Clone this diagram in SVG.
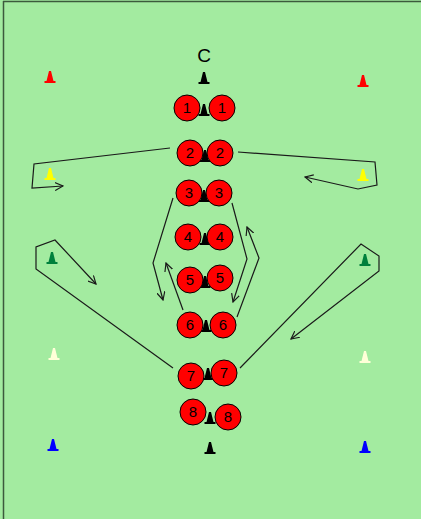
<svg xmlns="http://www.w3.org/2000/svg" xmlns:xlink="http://www.w3.org/1999/xlink" width="421" height="519" viewBox="0 0 421 519">
<style>
.p{fill:#ff0000;stroke:#000;stroke-width:1}
.n{font-family:"Liberation Sans",Arial,sans-serif;font-size:15px;fill:#000;text-anchor:middle}
.t{font-family:"Liberation Sans",Arial,sans-serif;font-size:19px;fill:#000;text-anchor:middle}
.c{fill:none;stroke:#1a1a1a;stroke-width:1.2;stroke-linejoin:miter}
</style>
<defs>
<path id="cone" d="M-1,-7 L1,-7 L3.5,3 L5.5,3 L5.5,5 L-5.5,5 L-5.5,3 L-3.5,3 Z"/>
<marker id="ah" viewBox="0 0 10 10" refX="9" refY="5" markerWidth="9" markerHeight="9" markerUnits="userSpaceOnUse" orient="auto">
<path d="M0,0.5 L9,5 L0,9.5" fill="none" stroke="#1a1a1a" stroke-width="1.3"/>
</marker>
</defs>
<rect x="0" y="0" width="421" height="519" fill="#a3eba0"/>
<line x1="3" y1="1.5" x2="421" y2="1.5" stroke="#3c5a3c" stroke-width="1.5"/>
<line x1="3.5" y1="1" x2="3.5" y2="519" stroke="#3c5a3c" stroke-width="1.5"/>

<g id="connectors">
<polyline class="c" points="170,148 34,164 32,188 63,186" marker-end="url(#ah)"/>
<polyline class="c" points="238,152 375,162 377,185 358,189 305,177" marker-end="url(#ah)"/>
<polyline class="c" points="173,198 153,263 163,300" marker-end="url(#ah)"/>
<polyline class="c" points="183,310 166,263" marker-end="url(#ah)"/>
<polyline class="c" points="232,203 247,259 233,302" marker-end="url(#ah)"/>
<polyline class="c" points="237,317 259,258 247,227" marker-end="url(#ah)"/>
<polyline class="c" points="173,368 36,269 36,247 55,240 96,284" marker-end="url(#ah)"/>
<polyline class="c" points="240,368 361,244 379,256 379,271 291,339" marker-end="url(#ah)"/>
</g>

<g id="coach">
<text class="t" x="204" y="62">C</text>
<use href="#cone" x="204" y="79" fill="#000"/>
</g>

<g id="cones-side">
<use href="#cone" x="50" y="78" fill="#ff0000"/>
<use href="#cone" x="363" y="82" fill="#ff0000"/>
<use href="#cone" x="50" y="175" fill="#ffff00"/>
<use href="#cone" x="363" y="176" fill="#ffff00"/>
<use href="#cone" x="52" y="259" fill="#00803c"/>
<use href="#cone" x="365" y="261" fill="#00803c"/>
<use href="#cone" x="54" y="355" fill="#ffffd8"/>
<use href="#cone" x="365" y="358" fill="#ffffd8"/>
<use href="#cone" x="53" y="446" fill="#0000ff"/>
<use href="#cone" x="365" y="448" fill="#0000ff"/>
<use href="#cone" x="210" y="449" fill="#000"/>
</g>

<g id="pair1">
<use href="#cone" x="204" y="111" fill="#000"/>
<circle class="p" cx="187" cy="108" r="13"/><text class="n" x="187" y="113">1</text>
<circle class="p" cx="222" cy="108" r="13"/><text class="n" x="222" y="113">1</text>
</g>
<g id="pair2">
<use href="#cone" x="205" y="157" fill="#000"/>
<circle class="p" cx="190" cy="153" r="13"/><text class="n" x="190" y="158">2</text>
<circle class="p" cx="220" cy="153" r="13"/><text class="n" x="220" y="158">2</text>
</g>
<g id="pair3">
<use href="#cone" x="204" y="197" fill="#000"/>
<circle class="p" cx="189" cy="193" r="13"/><text class="n" x="189" y="198">3</text>
<circle class="p" cx="219" cy="193" r="13"/><text class="n" x="219" y="198">3</text>
</g>
<g id="pair4">
<use href="#cone" x="205" y="240" fill="#000"/>
<circle class="p" cx="188" cy="237" r="13"/><text class="n" x="188" y="242">4</text>
<circle class="p" cx="220" cy="237" r="13"/><text class="n" x="220" y="242">4</text>
</g>
<g id="pair5">
<use href="#cone" x="205" y="283" fill="#000"/>
<circle class="p" cx="190" cy="280" r="13"/><text class="n" x="190" y="285">5</text>
<circle class="p" cx="220" cy="278" r="13"/><text class="n" x="220" y="283">5</text>
</g>
<g id="pair6">
<use href="#cone" x="206" y="327" fill="#000"/>
<circle class="p" cx="190" cy="325" r="13"/><text class="n" x="190" y="330">6</text>
<circle class="p" cx="223" cy="325" r="13"/><text class="n" x="223" y="330">6</text>
</g>
<g id="pair7">
<use href="#cone" x="208" y="375" fill="#000"/>
<circle class="p" cx="191" cy="376" r="13"/><text class="n" x="191" y="381">7</text>
<circle class="p" cx="224" cy="373" r="13"/><text class="n" x="224" y="378">7</text>
</g>
<g id="pair8">
<use href="#cone" x="210" y="419" fill="#000"/>
<circle class="p" cx="193" cy="412" r="13"/><text class="n" x="193" y="417">8</text>
<circle class="p" cx="228" cy="417" r="13"/><text class="n" x="228" y="422">8</text>
</g>
</svg>
